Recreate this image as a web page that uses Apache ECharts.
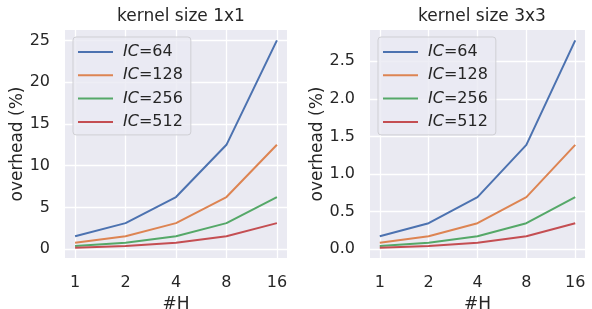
<!DOCTYPE html>
<html lang="en">
<head>
    <meta charset="UTF-8">
    <title>overhead</title>
    <script src="https://cdn.jsdelivr.net/npm/echarts@6/dist/echarts.min.js"></script>
    <style>
        html, body { margin: 0; padding: 0; background: #fff; }
        #chart1 { width: 592px; height: 309px; }
    </style>
</head>
<body>
<div id="chart1"></div>
<script>
    // #H values along the x axis
    var hLabels = ['1', '2', '4', '8', '16'];
    var icNames = ['IC=64', 'IC=128', 'IC=256', 'IC=512'];

    // kernel size 1x1, overhead (%)
    var k1IC64 = [1.5625, 3.125, 6.25, 12.5, 25];
    var k1IC128 = [0.78125, 1.5625, 3.125, 6.25, 12.5];
    var k1IC256 = [0.390625, 0.78125, 1.5625, 3.125, 6.25];
    var k1IC512 = [0.1953, 0.390625, 0.78125, 1.5625, 3.125];

    // kernel size 3x3, overhead (%)
    var k3IC64 = [0.174, 0.347, 0.694, 1.389, 2.778];
    var k3IC128 = [0.087, 0.174, 0.347, 0.694, 1.389];
    var k3IC256 = [0.043, 0.087, 0.174, 0.347, 0.694];
    var k3IC512 = [0.022, 0.043, 0.087, 0.174, 0.347];

    var k1Ticks = [0, 5, 10, 15, 20, 25];
    var k3Ticks = [0, 0.5, 1, 1.5, 2, 2.5];

    var colors = ['#4C72B0', '#DD8452', '#55A868', '#C44E52'];
    var textColor = '#262626';
    var font = 'DejaVu Sans';

    // matplotlib style 5% margins
    function pad(arrs) {
        var all = [].concat.apply([], arrs);
        var lo = Math.min.apply(null, all), hi = Math.max.apply(null, all);
        var m = (hi - lo) * 0.05;
        return [lo - m, hi + m];
    }

    function toPoints(vals) {
        return vals.map(function (v, i) { return [i, v]; });
    }

    function xAxis(idx) {
        return {
            gridIndex: idx, type: 'value', min: -0.2, max: 4.2,
            name: '#H', nameLocation: 'middle', nameGap: 35,
            nameTextStyle: { color: textColor, fontSize: 17, fontFamily: font },
            axisLine: { show: false },
            axisTick: { show: false, customValues: [0, 1, 2, 3, 4] },
            axisLabel: {
                customValues: [0, 1, 2, 3, 4], margin: 17,
                color: textColor, fontSize: 16, fontFamily: font,
                formatter: function (v) { return hLabels[Math.round(v)]; }
            },
            splitLine: { show: true, lineStyle: { color: '#ffffff', width: 1.3 } }
        };
    }

    function yAxis(idx, range, ticks, digits, gap) {
        return {
            gridIndex: idx, type: 'value', min: range[0], max: range[1],
            name: 'overhead (%)', nameLocation: 'middle', nameGap: gap,
            nameTextStyle: { color: textColor, fontSize: 17, fontFamily: font },
            axisLine: { show: false },
            axisTick: { show: false, customValues: ticks },
            axisLabel: {
                customValues: ticks, margin: 15,
                color: textColor, fontSize: 16, fontFamily: font,
                formatter: function (v) { return v.toFixed(digits); }
            },
            splitLine: { show: true, lineStyle: { color: '#ffffff', width: 1.3 } }
        };
    }

    function legend(left) {
        return {
            orient: 'vertical', left: left, top: 37,
            data: icNames,
            icon: 'rect',
            itemWidth: 35, itemHeight: 2, itemGap: 7.3,
            padding: [7, 8, 5, 5],
            backgroundColor: 'rgba(234,234,242,0.8)',
            borderColor: '#cfcfd4', borderWidth: 1, borderRadius: 3,
            formatter: function (name) {
                return '{i|IC}{n|' + name.slice(2) + '}';
            },
            textStyle: {
                padding: [0, 0, 0, 5],
                rich: {
                    i: { fontStyle: 'italic', color: textColor, fontSize: 16, fontFamily: font },
                    n: { color: textColor, fontSize: 16, fontFamily: font }
                }
            }
        };
    }

    var k1Data = [k1IC64, k1IC128, k1IC256, k1IC512];
    var k3Data = [k3IC64, k3IC128, k3IC256, k3IC512];
    var series = [];
    [k1Data, k3Data].forEach(function (set, g) {
        set.forEach(function (vals, i) {
            series.push({
                name: icNames[i], type: 'line', xAxisIndex: g, yAxisIndex: g,
                data: toPoints(vals), symbol: 'none', color: colors[i],
                lineStyle: { width: 2 }, z: 3
            });
        });
    });

    var ctx1 = echarts.init(document.getElementById('chart1'), null, { renderer: 'canvas' });
    ctx1.setOption({
        animation: false,
        title: [
            { text: 'kernel size 1x1', left: 176, top: 3, textAlign: 'center',
              textStyle: { color: textColor, fontSize: 17, fontWeight: 'normal', fontFamily: font } },
            { text: 'kernel size 3x3', left: 477, top: 3, textAlign: 'center',
              textStyle: { color: textColor, fontSize: 17, fontWeight: 'normal', fontFamily: font } }
        ],
        legend: [legend(73), legend(378)],
        grid: [
            { left: 65, top: 30, width: 222, height: 228, outerBoundsMode: 'none',
              show: true, backgroundColor: '#EAEAF2', borderWidth: 0 },
            { left: 370, top: 30, width: 215, height: 228, outerBoundsMode: 'none',
              show: true, backgroundColor: '#EAEAF2', borderWidth: 0 }
        ],
        xAxis: [xAxis(0), xAxis(1)],
        yAxis: [yAxis(0, pad(k1Data), k1Ticks, 0, 39), yAxis(1, pad(k3Data), k3Ticks, 1, 44)],
        series: series
    });
</script>
</body>
</html>
